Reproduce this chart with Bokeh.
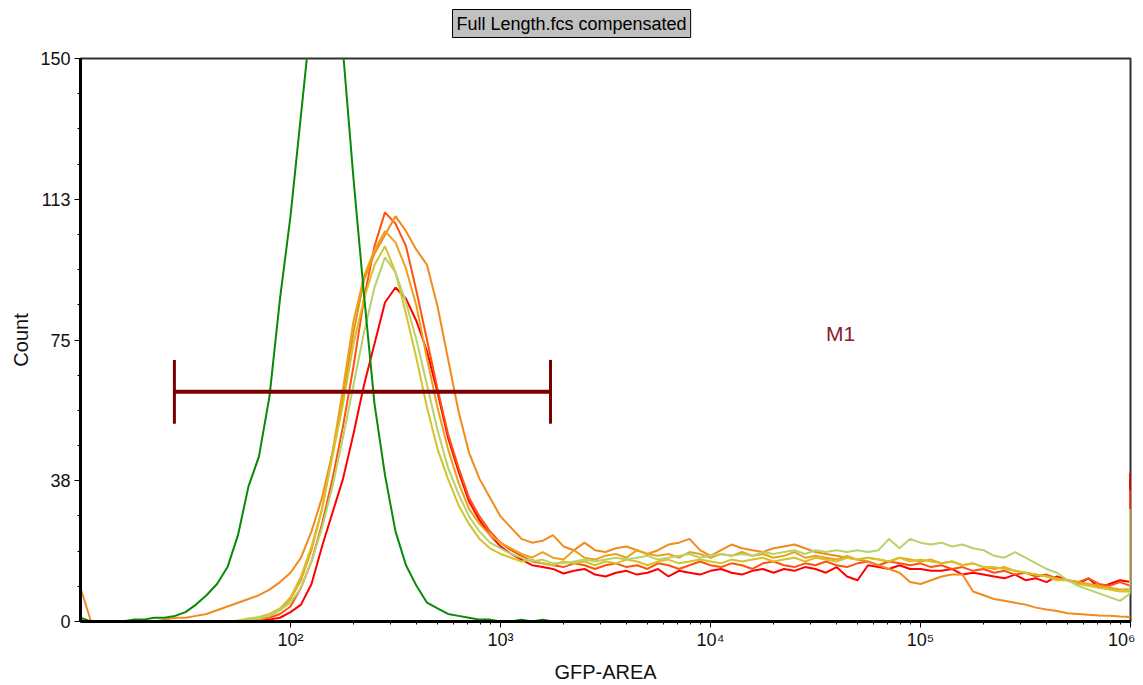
from bokeh.plotting import figure
from bokeh.models import ColumnDataSource, Range1d, FixedTicker, Label, Title
from bokeh.embed import file_html
from bokeh.resources import INLINE

# ---------------- data ----------------
# histogram channel positions (GFP-AREA)
GFP_AREA = [
    10, 11.22, 12.59, 14.13, 15.85, 17.78, 19.95, 22.39, 25.12, 28.18,
    31.62, 35.48, 39.81, 44.67, 50.12, 56.23, 63.10, 70.79, 79.43, 89.13,
    100, 112.2, 125.9, 141.3, 158.5, 177.8, 199.5, 223.9, 251.2, 281.8,
    316.2, 354.8, 398.1, 446.7, 501.2, 562.3, 631.0, 707.9, 794.3, 891.3,
    1000, 1122, 1259, 1413, 1585, 1778, 1995, 2239, 2512, 2818,
    3162, 3548, 3981, 4467, 5012, 5623, 6310, 7079, 7943, 8913,
    10000, 11220, 12589, 14125, 15849, 17783, 19953, 22387, 25119, 28184,
    31623, 35481, 39811, 44668, 50119, 56234, 63096, 70795, 79433, 89125,
    100000, 112202, 125893, 141254, 158489, 177828, 199526, 223872, 251189, 281838,
    316228, 354813, 398107, 446684, 501187, 562341, 630957, 707946, 794328, 891251,
    1000000,
]

CONTROL_GREEN = [
    1, 0, 0, 0, 0, 0.5, 0.5, 1, 1, 1.5,
    2.5, 4.5, 7, 10, 14.5, 23, 36, 44, 60, 86,
    108, 135, 162, 182, 188, 152, 118, 87, 58, 39,
    24, 15, 9.5, 5, 3.5, 2, 1.5, 1, 0.5, 0.5,
    0, 0, 0.5, 0, 0.5, 0, 0, 0, 0, 0,
    0, 0, 0, 0, 0, 0, 0, 0, 0, 0,
    0, 0, 0, 0, 0, 0, 0, 0, 0, 0,
    0, 0, 0, 0, 0, 0, 0, 0, 0, 0,
    0, 0, 0, 0, 0, 0, 0, 0, 0, 0,
    0, 0, 0, 0, 0, 0, 0, 0, 0, 0,
    0,
]

SAMPLE_RED = [
    0, 0, 0, 0, 0, 0, 0, 0, 0, 0,
    0, 0, 0, 0, 0, 0, 0, 0.3, 0.5, 1,
    2.5, 4.5, 10, 20, 29, 38, 50, 63, 74, 85,
    89, 86, 80, 72, 61, 49, 40, 32, 27, 23,
    20, 18, 16.5, 15, 14.5, 14, 12.8, 13.5, 14, 12.5,
    12, 13, 13.5, 12.5, 13, 14, 12, 13.5, 13, 12.5,
    13.5, 14, 13, 12.5, 13.5, 14, 13, 14, 13.5, 14.5,
    14, 13, 14.5, 12, 11, 15, 14.5, 14, 15, 14,
    14, 13.5, 13.5, 14, 12.5, 13, 12.5, 12, 11.5, 12.5,
    11, 11.5, 10.5, 12, 11, 10, 11.5, 9, 10, 11,
    10.5,
]

SAMPLE_ORANGERED = [
    0, 0, 0, 0, 0, 0, 0, 0, 0, 0,
    0, 0, 0, 0, 0, 0, 0, 0.5, 1, 2,
    4, 9, 16, 26, 38, 52, 68, 86, 100, 109,
    106, 100, 88, 75, 62, 50, 41, 33, 28, 24,
    21, 19, 17.5, 16, 15.5, 15, 14.5, 15.5, 15, 14,
    15, 15.5, 14.5, 15, 14, 15.5, 15, 14, 15, 16,
    15, 14.5, 15.5, 15, 14, 15.5, 16, 15, 14.5, 15.5,
    15, 16, 15, 14.5, 15.5, 16, 15, 16, 15.5, 15,
    15.5, 14.5, 15, 14, 14.5, 13.5, 14, 13, 13.5, 12.5,
    13, 12, 12.5, 11.5, 11, 10.5, 11.5, 10, 9.5, 10.5,
    9.5,
]

SAMPLE_ORANGE = [
    9, 0, 0, 0, 0, 0, 0, 0, 0.5, 1,
    1, 1.5, 2, 3, 4, 5, 6, 7, 8.5, 10.5,
    13, 17, 24, 33, 45, 60, 77, 91, 98, 103,
    108, 104, 99, 95, 84, 70, 56, 45, 38, 33,
    28, 25, 22, 21, 21.5, 23, 20, 19, 21, 19,
    18.5, 19.5, 20, 19, 18, 19, 20.5, 21, 22, 19,
    17.5, 19, 20.5, 19.5, 19, 18.5, 19.5, 20, 20.5, 19.5,
    18.5, 18, 17.5, 17, 16.5, 16, 15, 14, 13, 10.5,
    10, 11, 12, 12.5, 12.5, 8, 7, 6, 5.5, 5,
    4.5, 3.7, 3.2, 2.8, 2.2, 2, 1.8, 1.6, 1.5, 1.3,
    1.2,
]

SAMPLE_AMBER = [
    0, 0, 0, 0, 0, 0, 0, 0, 0, 0,
    0, 0, 0, 0, 0, 0, 0, 0.5, 1.5, 3,
    6, 11, 19, 30, 45, 62, 80, 92, 99, 104,
    101, 94, 84, 70, 57, 46, 37, 30, 26, 23,
    21, 19.5, 18, 17, 18.5, 17, 16.5, 19, 17, 16.5,
    17.5, 18, 17, 19, 18, 17.5, 18, 17, 18.5, 18,
    17, 18, 17.5, 18.5, 17.5, 18, 17, 17.5, 18.5, 17,
    17.5, 17, 16.5, 17.5, 16.5, 17, 16.5, 16, 17, 16.5,
    16, 16.5, 15.5, 16, 15, 15.5, 14.5, 14, 14.5, 13.5,
    13, 12.5, 12, 11.5, 11, 10.5, 10, 9.5, 9, 8.5,
    8.5,
]

SAMPLE_GOLD = [
    0, 0, 0, 0, 0, 0, 0, 0, 0, 0,
    0, 0, 0, 0, 0, 0.3, 0.8, 1.2, 2, 3.5,
    6.5, 12, 20, 30, 44, 58, 74, 86, 95, 100,
    93, 82, 70, 57, 46, 38, 31, 26, 22, 19.5,
    18, 17, 16, 16.5, 15.5, 15, 16, 15.5, 16, 15,
    16, 15.5, 16.5, 16, 15, 16, 16.5, 15.5, 16, 16.5,
    16, 15.5, 16.5, 16, 16.5, 17, 16, 16.5, 17, 16,
    17, 16.5, 16, 17, 16.5, 17, 16.5, 16, 17, 16,
    16.5, 16, 15.5, 16, 15, 15.5, 14.5, 14.5, 14, 13.5,
    13, 12.5, 12, 11, 11, 10, 9.5, 9, 8.5, 8,
    8,
]

SAMPLE_YELLOWGREEN = [
    0, 0, 0, 0, 0, 0, 0, 0, 0, 0,
    0, 0, 0, 0, 0, 0, 0.5, 1, 1.5, 3,
    5, 9, 16, 25, 36, 49, 63, 77, 89, 97,
    93, 85, 75, 63, 51, 41, 34, 28, 24, 21,
    19.5, 18, 17, 16, 16.5, 15.5, 15.5, 16, 16.5, 16,
    16.5, 17, 16.5, 17, 17.5, 16.5, 17, 17.5, 18, 17,
    17.5, 18, 17.5, 18, 17.5, 18.5, 18, 18.5, 19, 18,
    19, 18.5, 19, 18.5, 19, 18.5, 19, 22, 19.5, 22,
    21, 20.5, 21, 20, 20.5, 19.5, 19, 17.5, 17, 18.5,
    17, 15.5, 14, 13, 11, 9.5, 8.5, 7.5, 6.5, 5.5,
    7.5,
]

# off-scale (last channel) counts
OVERFLOW_RED = 39.5
OVERFLOW_ORANGERED = 35
OVERFLOW_YELLOWGREEN = 30

# marker M1 gate
GATE_NAME = "M1"
GATE_LOW = 28
GATE_HIGH = 1730
GATE_LEVEL = 61.2
GATE_CAP = 8.5
GATE_LABEL_X = 41600
GATE_LABEL_Y = 76.7

TITLE = "Full Length.fcs compensated"
X_TICKS = [100, 1000, 10000, 100000, 1000000]
X_TICK_LABELS = ["10²", "10³", "10⁴", "10⁵", "10⁶"]
Y_TICKS = [0, 37.5, 75, 112.5, 150]
Y_TICK_LABELS = ["0", "38", "75", "113", "150"]

FONT = "Liberation Sans"

# ---------------- figure ----------------
p = figure(
    width=1135, height=685,
    x_axis_type="log",
    x_range=Range1d(10, 1000000), y_range=Range1d(0, 150),
    output_backend="svg", toolbar_location=None,
    min_border_left=80, min_border_right=5, min_border_top=58, min_border_bottom=64,
)
p.grid.visible = False
p.outline_line_color = "#303030"
p.outline_line_width = 2
p.background_fill_color = "white"
p.border_fill_color = "white"

p.title = Title(
    text=TITLE, align="left", offset=372,
    text_font=FONT, text_font_size="18px", text_font_style="normal",
    text_color="black", background_fill_color="#C0C0C0",
    border_line_color="black", border_line_width=1, padding=4, standoff=14,
)
# thin spacer between the title box and the plot frame
p.add_layout(Title(text=" ", text_font_size="2px", standoff=10), "above")

src = ColumnDataSource(dict(
    gfp=GFP_AREA, green=CONTROL_GREEN, red=SAMPLE_RED, orangered=SAMPLE_ORANGERED,
    orange=SAMPLE_ORANGE, amber=SAMPLE_AMBER, gold=SAMPLE_GOLD, yg=SAMPLE_YELLOWGREEN,
))

series = [
    ("red", "#FF0000"),
    ("orangered", "#FF5210"),
    ("orange", "#F28A1E"),
    ("amber", "#EAA21C"),
    ("gold", "#D6C22A"),
    ("yg", "#B7D26A"),
    ("green", "#078A07"),
]
for col, color in series:
    p.line(x="gfp", y=col, source=src, line_color=color, line_width=2)

# overflow bars at the right edge
last = len(GFP_AREA) - 1
ov = ColumnDataSource(dict(
    x0=[GFP_AREA[last]] * 3, x1=[GFP_AREA[last]] * 3,
    y0=[SAMPLE_RED[last], SAMPLE_ORANGERED[last], SAMPLE_YELLOWGREEN[last]],
    y1=[OVERFLOW_RED, OVERFLOW_ORANGERED, OVERFLOW_YELLOWGREEN],
    c=["#FF0000", "#FF5210", "#B7D26A"],
))
p.segment(x0="x0", y0="y0", x1="x1", y1="y1", color="c", line_width=3, source=ov)

# marker M1
p.segment(x0=[GATE_LOW], y0=[GATE_LEVEL], x1=[GATE_HIGH], y1=[GATE_LEVEL],
          line_color="#7A0000", line_width=4)
p.segment(x0=[GATE_LOW, GATE_HIGH], y0=[GATE_LEVEL - GATE_CAP] * 2,
          x1=[GATE_LOW, GATE_HIGH], y1=[GATE_LEVEL + GATE_CAP] * 2,
          line_color="#7A0000", line_width=3)
p.add_layout(Label(x=GATE_LABEL_X, y=GATE_LABEL_Y, text=GATE_NAME,
                   text_align="center", text_baseline="middle",
                   text_font=FONT, text_font_size="21px", text_color="#8B1A2E"))

# axes
xa = p.xaxis[0]
xa.ticker = FixedTicker(ticks=X_TICKS,
                        minor_ticks=[m * 10 ** d for d in (2, 3, 4, 5) for m in range(2, 10)])
xa.major_label_overrides = dict(zip(X_TICKS, X_TICK_LABELS))
xa.axis_label = "GFP-AREA"

ya = p.yaxis[0]
ya.ticker = FixedTicker(ticks=Y_TICKS, minor_ticks=[9.375 * k for k in range(17)])
ya.major_label_overrides = dict(zip(Y_TICKS, Y_TICK_LABELS))
ya.axis_label = "Count"

for ax in (xa, ya):
    ax.axis_line_color = "black"
    ax.axis_line_width = 3
    ax.major_tick_line_color = "black"
    ax.minor_tick_line_color = "black"
    ax.major_tick_line_width = 1
    ax.minor_tick_line_width = 1
    ax.major_tick_out = 6
    ax.major_tick_in = 0
    ax.minor_tick_out = 3
    ax.minor_tick_in = 0
    ax.major_label_text_font = FONT
    ax.major_label_text_font_size = "18px"
    ax.major_label_text_color = "#111111"
    ax.axis_label_text_font = FONT
    ax.axis_label_text_font_size = "20px"
    ax.axis_label_text_font_style = "normal"
    ax.axis_label_text_color = "#111111"

xa.major_label_standoff = 2
xa.axis_label_standoff = 8
ya.major_label_standoff = 4
ya.axis_label_standoff = 5

open("out.html", "w").write(file_html(p, INLINE))
